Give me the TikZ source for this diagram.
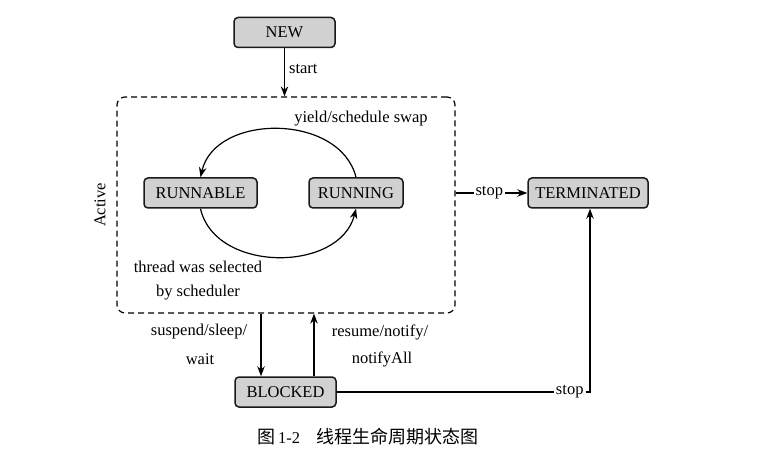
\documentclass[tikz,border=0pt]{standalone}
\usepackage{fontspec}
\setmainfont{Liberation Serif}
\newfontfamily\cjk{Noto Sans CJK SC}
\usetikzlibrary{arrows.meta}
\begin{document}
\begin{tikzpicture}[x=1pt,y=-1pt,
  font=\fontsize{16.5}{20}\selectfont,
  state/.style={draw=black!90, line width=1.5pt, fill=black!18, rounded corners=4pt,
    minimum height=30pt, inner sep=0pt},
  arr/.style={-{Stealth[length=10pt,width=7.5pt]}, line width=1.2pt},
  lbl/.style={inner sep=1pt},
  onl/.style={fill=white, inner sep=2pt}]
\useasboundingbox[fill=white] (0,0) rectangle (758,457);

\node[state, minimum width=101pt] (new) at (284.5,32.5) {NEW};
\node[draw, dashed, dash pattern=on 6pt off 4pt, line width=1.2pt, rounded corners=8pt,
  minimum width=338pt, minimum height=216pt, inner sep=0pt] (active) at (286,205) {};
\node[lbl, rotate=90] (activelbl) at (100,205) {Active};

\node[state, minimum width=113pt] (runnable) at (200.5,193) {RUNNABLE};
\node[state, minimum width=94pt] (running) at (356,193) {RUNNING};
\node[state, minimum width=120pt] (term) at (588,193) {TERMINATED};
\node[state, minimum width=101pt] (blocked) at (285.5,392) {BLOCKED};

% start
\draw[arr] (new.south) -- node[lbl, right=3pt, pos=0.42] (startlbl) {start} (new.south |- active.north);

% cycle
\draw[arr] (running.north) .. controls (340,113) and (215,113) .. (runnable.north);
\draw[arr] (runnable.south) .. controls (215,273) and (340,273) .. (running.south);
\node[lbl] (yieldlbl) at (361,119) {yield/schedule swap};
\node[lbl] (threadlbl) at (198,267) {thread was selected};
\node[lbl] (schedlbl) at (198,293) {by scheduler};

% stop from active
\draw[arr] (active.east |- term.west) -- node[onl, pos=0.47] (stop1) {stop} (term.west);

% blocked transitions
\draw[arr] ([xshift=-24.5pt]blocked.north |- active.south) -- ([xshift=-24.5pt]blocked.north);
\draw[arr] ([xshift=28.5pt]blocked.north) -- ([xshift=28.5pt]blocked.north |- active.south);
\node[lbl] (suslbl) at (199,332) {suspend/sleep/};
\node[lbl] (waitlbl) at (200,359) {wait};
\node[lbl] (reslbl) at (380,332) {resume/notify/};
\node[lbl] (notlbl) at (382,359) {notifyAll};

% blocked -> terminated
\draw[arr] (blocked.east) -| node[onl, pos=0.46] (stop2) {stop} ([xshift=2pt]term.south);

% caption
\node[lbl] (caption) at (368,437) {{\cjk\fontsize{18}{20}\selectfont 图}\,1-2\hspace{1em}{\cjk\fontsize{18}{20}\selectfont 线程生命周期状态图}};
\end{tikzpicture}
\end{document}
